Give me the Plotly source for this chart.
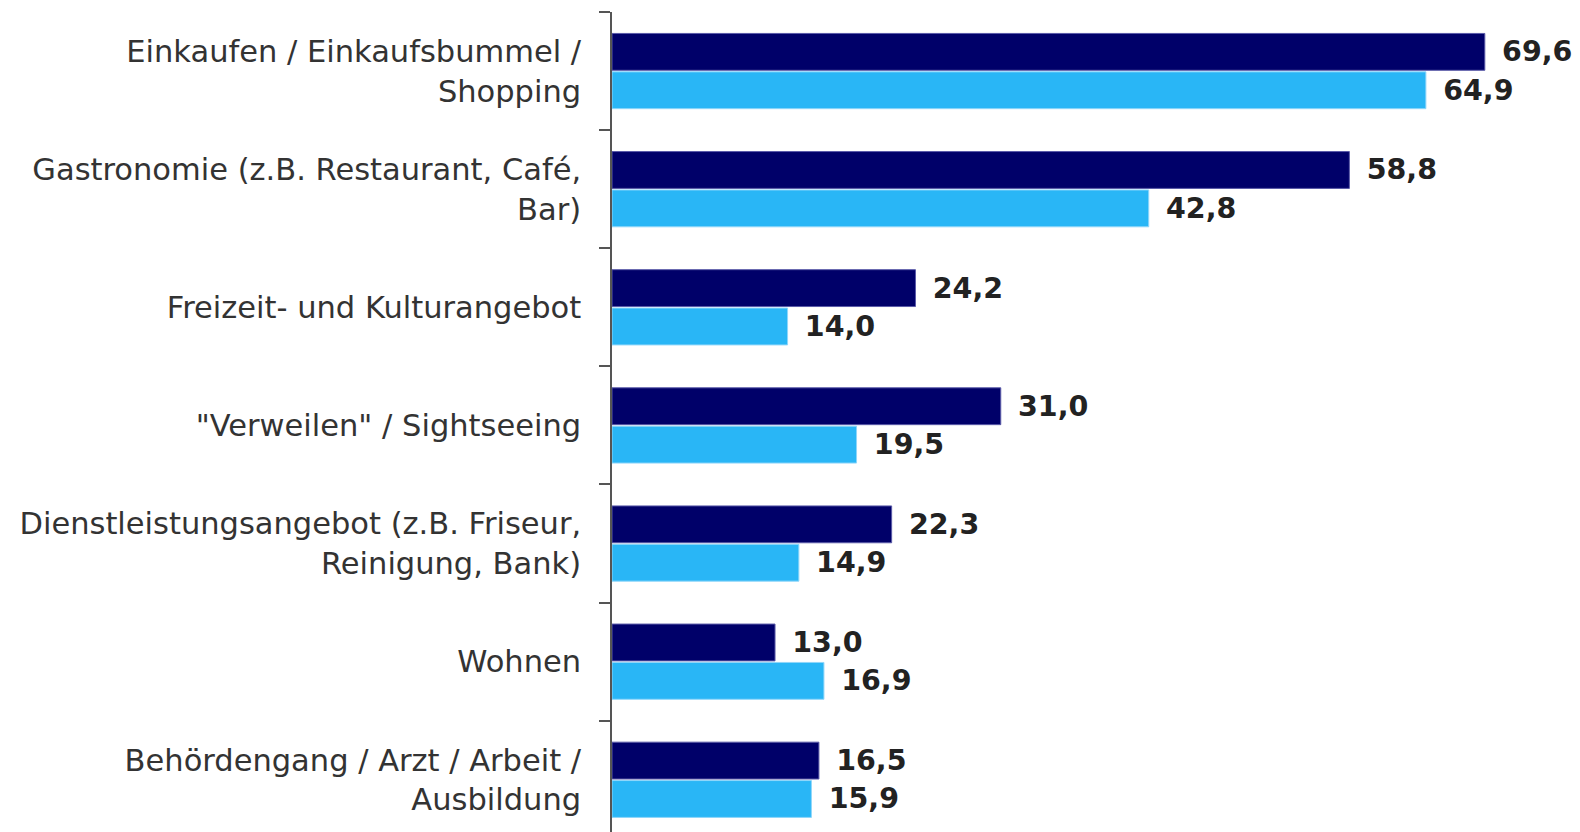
import plotly.graph_objects as go

categories = [
    "Einkaufen / Einkaufsbummel /<br>Shopping",
    "Gastronomie (z.B. Restaurant, Café,<br>Bar)",
    "Freizeit- und Kulturangebot",
    "\"Verweilen\" / Sightseeing",
    "Dienstleistungsangebot (z.B. Friseur,<br>Reinigung, Bank)",
    "Wohnen",
    "Behördengang / Arzt / Arbeit /<br>Ausbildung",
]
series_a = [69.6, 58.8, 24.2, 31.0, 22.3, 13.0, 16.5]
series_b = [64.9, 42.8, 14.0, 19.5, 14.9, 16.9, 15.9]

dark = "#000069"
light = "#29B6F6"

fig = go.Figure()
for vals, col, edge in [(series_a, dark, "#5a5aa8"), (series_b, light, "#8fd6fa")]:
    fig.add_trace(go.Bar(
        y=categories, x=vals, orientation="h",
        marker=dict(color=col, line=dict(color=edge, width=1)),
        text=vals, texttemplate="\u2002%{x:.1f}", textposition="outside",
        textfont=dict(family="DejaVu Sans", size=28.5, color="#222222", weight="bold"),
        cliponaxis=False, constraintext="none", showlegend=False,
    ))

fig.update_layout(
    width=1572, height=824,
    margin=dict(l=604, r=0, t=4, b=0),
    barmode="group", bargap=0.35, bargroupgap=0.04,
    separators=",.",
    plot_bgcolor="white", paper_bgcolor="white",
    font=dict(family="DejaVu Sans", size=30.5, color="#333333"),
)
fig.update_xaxes(range=[0, 77.19], visible=False, showgrid=False, zeroline=False)
fig.update_yaxes(
    type="category", range=[6.442, -0.5],
    showline=True, linecolor="#555555", linewidth=1.5,
    ticks="outside", tickson="boundaries", ticklen=11, tickcolor="#555555", tickwidth=1.5,
    showgrid=False, ticklabelstandoff=23,
)

fig.write_html("out.html")
